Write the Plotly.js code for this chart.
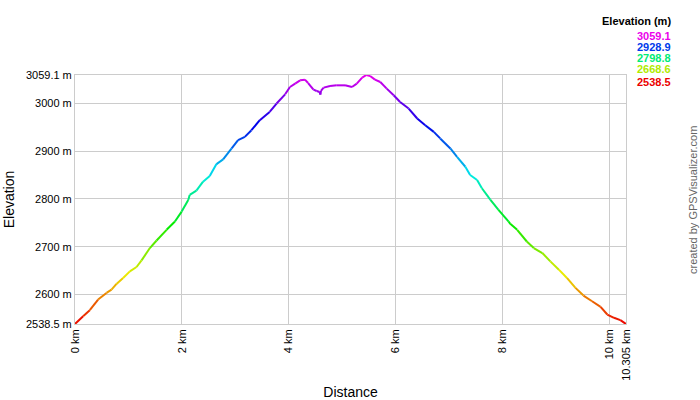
<!DOCTYPE html>
<html>
<head>
<meta charset="utf-8">
<script src="https://cdn.plot.ly/plotly-3.0.1.min.js"></script>
<style>html,body{margin:0;padding:0;background:#fff;}#chart{width:700px;height:400px;}</style>
</head>
<body>
<div id="chart"></div>
<script>
var distanceKm = [0, 0.152, 0.276, 0.432, 0.589, 0.683, 0.776, 0.9, 1.026, 1.151, 1.245, 1.40, 1.526, 1.713, 1.869, 1.995, 2.118, 2.145, 2.27, 2.395, 2.52, 2.646, 2.77, 2.93, 3.05, 3.176, 3.30, 3.456, 3.64, 3.77, 3.93, 4.02, 4.117, 4.21, 4.30, 4.36, 4.46, 4.52, 4.575, 4.59, 4.60, 4.65, 4.77, 4.896, 5.05, 5.18, 5.27, 5.37, 5.45, 5.52, 5.61, 5.71, 5.83, 5.96, 6.08, 6.24, 6.40, 6.55, 6.71, 6.83, 7.02, 7.145, 7.30, 7.39, 7.52, 7.61, 7.77, 7.92, 8.11, 8.14, 8.27, 8.45, 8.58, 8.74, 8.89, 9.05, 9.20, 9.36, 9.51, 9.67, 9.83, 9.955, 10.08, 10.20, 10.305];
var elevationM = [2538.5, 2554.8, 2567.3, 2589.6, 2603.5, 2610.4, 2622.3, 2634.8, 2648.5, 2657.7, 2671.5, 2697.3, 2713.1, 2735.4, 2752.7, 2773.5, 2797.9, 2808.3, 2817.3, 2836.0, 2847.9, 2872.9, 2882.7, 2905.6, 2922.9, 2929.8, 2943.7, 2964.6, 2981.9, 2999.4, 3018.7, 3034.0, 3041.0, 3047.9, 3049.4, 3042.3, 3028.5, 3025.6, 3023.5, 3018.0, 3026.0, 3032.7, 3036.0, 3037.5, 3037.5, 3034.0, 3041.0, 3053.5, 3059.1, 3056.9, 3049.4, 3044.4, 3030.6, 3016.7, 3002.7, 2988.9, 2968.1, 2954.2, 2940.2, 2926.5, 2905.6, 2888.1, 2867.3, 2850.0, 2839.6, 2822.3, 2797.9, 2777.1, 2752.7, 2747.9, 2735.4, 2711.0, 2697.3, 2686.9, 2669.4, 2652.1, 2634.8, 2614.0, 2597.9, 2586.0, 2574.4, 2558.3, 2551.5, 2546.5, 2538.5];

var xTickVals = [0, 2, 4, 6, 8, 10, 10.305];
var xTickText = ['0 km', '2 km', '4 km', '6 km', '8 km', '10 km', '10.305 km'];
var yTickVals = [2538.5, 2600, 2700, 2800, 2900, 3000, 3059.1];
var yTickText = ['2538.5 m', '2600 m', '2700 m', '2800 m', '2900 m', '3000 m', '3059.1 m'];
var legendVals = [3059.1, 2928.9, 2798.8, 2668.6, 2538.5];
var legendLabels = ['3059.1', '2928.9', '2798.8', '2668.6', '2538.5'];

var eMin = 2538.5, eMax = 3059.1;
function elevColor(e) {
  var f = (e - eMin) / (eMax - eMin);
  f = Math.max(0, Math.min(1, f));
  return 'hsl(' + (300 * f).toFixed(1) + ',100%,46%)';
}

var traces = [];
for (var i = 0; i < distanceKm.length - 1; i++) {
  traces.push({
    type: 'scatter', mode: 'lines',
    x: [distanceKm[i], distanceKm[i + 1]],
    y: [elevationM[i], elevationM[i + 1]],
    line: {color: elevColor((elevationM[i] + elevationM[i + 1]) / 2), width: 2},
    hoverinfo: 'skip', showlegend: false
  });
}

var M = {l: 75, r: 74, t: 75, b: 76};
var W = 700, H = 400;
function px(xp) { return (xp - M.l) / (W - M.l - M.r); }
function py(yp) { return (H - M.b - yp) / (H - M.t - M.b); }

var annotations = [{
  text: '<b>Elevation (m)</b>', xref: 'paper', yref: 'paper',
  x: px(673), y: py(21), xanchor: 'right', yanchor: 'middle', showarrow: false,
  font: {family: 'Liberation Sans, Arial, sans-serif', size: 11, color: '#000'}
}];
var legendY = [36, 47, 58, 69, 82];
for (var j = 0; j < legendVals.length; j++) {
  annotations.push({
    text: '<b>' + legendLabels[j] + '</b>', xref: 'paper', yref: 'paper',
    x: px(673), y: py(legendY[j]), xanchor: 'right', yanchor: 'middle', showarrow: false,
    font: {family: 'Liberation Sans, Arial, sans-serif', size: 11, color: elevColor(legendVals[j])}
  });
}
annotations.push({
  text: 'created by GPSVisualizer.com', xref: 'paper', yref: 'paper',
  x: px(693), y: py(200), xanchor: 'center', yanchor: 'middle', showarrow: false,
  textangle: -90,
  font: {family: 'Liberation Sans, Arial, sans-serif', size: 11, color: '#666'}
});

var layout = {
  width: W, height: H,
  margin: M,
  paper_bgcolor: '#fff', plot_bgcolor: '#fff',
  font: {family: 'Liberation Sans, Arial, sans-serif', size: 11, color: '#000'},
  showlegend: false,
  xaxis: {
    range: [0, 10.305], tickvals: xTickVals, ticktext: xTickText, tickangle: -90,
    showgrid: true, gridcolor: '#cccccc', gridwidth: 1, zeroline: false,
    showline: true, linecolor: '#cccccc', linewidth: 1, mirror: true,
    ticks: '', tickfont: {size: 11, color: '#000'},
    title: {text: 'Distance', font: {size: 14, color: '#000'}, standoff: 10}
  },
  yaxis: {
    range: [eMin, eMax], tickvals: yTickVals, ticktext: yTickText,
    showgrid: true, gridcolor: '#cccccc', gridwidth: 1, zeroline: false,
    showline: true, linecolor: '#cccccc', linewidth: 1, mirror: true,
    ticks: '', tickfont: {size: 11, color: '#000'},
    title: {text: 'Elevation', font: {size: 14, color: '#000'}, standoff: 8}
  },
  annotations: annotations
};

Plotly.newPlot('chart', traces, layout, {displayModeBar: false, staticPlot: true});
</script>
</body>
</html>
